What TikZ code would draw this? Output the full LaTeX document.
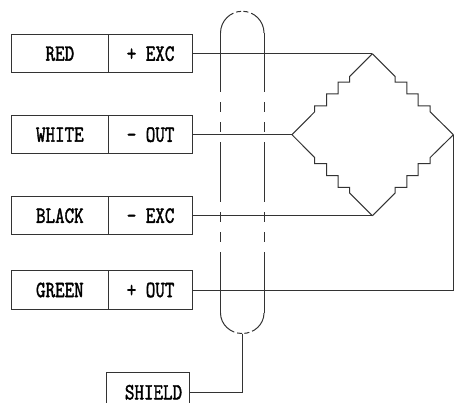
\documentclass[tikz,border=0pt]{standalone}
\usepackage{fontspec}
\newfontfamily\cellFont[AutoFakeBold=2]{Latin Modern Mono}
\usetikzlibrary{positioning}
\newcommand{\cellText}[1]{\scalebox{1}[1.25]{#1}}
\tikzset{
  wireLine/.style={line width=1pt, draw=black!80},
  cellLabel/.style={inner sep=0pt, font=\fontsize{18.5}{20}\selectfont\cellFont\bfseries},
  colorCell/.style={wireLine, cellLabel, rectangle, outer sep=0pt, minimum height=38.5pt, minimum width=97.7pt},
  signalCell/.style={colorCell, minimum width=83.8pt},
  shieldCell/.style={colorCell, minimum width=83.5pt},
  % Cable: long solid runs broken by two short dashes
  cableSide/.style={wireLine, dash pattern=on 59pt off 10pt on 10pt off 10pt on 10pt off 10pt on 60pt off 10pt on 10pt off 10pt on 10pt off 10pt on 61pt},
  cableEnd/.style={wireLine, dash pattern=on 25pt off 3pt on 5pt off 2.3pt on 5pt off 3pt on 25pt}
}
\begin{document}
\begin{tikzpicture}[x=1pt, y=-1pt]
  \useasboundingbox (0,0) rectangle (454,402);
  \clip (0,0) rectangle (454,402);

  % Terminal rows
  \node[colorCell] (red) at (59.85,53.7) {\cellText{RED}};
  \node[signalCell, right=0pt of red] (excPlus) {\cellText{+ EXC}};
  \node[colorCell] (white) at (59.85,134.7) {\cellText{WHITE}};
  \node[signalCell, right=0pt of white] (outMinus) {\cellText{- OUT}};
  \node[colorCell] (black) at (59.85,215.7) {\cellText{BLACK}};
  \node[signalCell, right=0pt of black] (excMinus) {\cellText{- EXC}};
  \node[colorCell] (green) at (59.85,290) {\cellText{GREEN}};
  \node[signalCell, right=0pt of green] (outPlus) {\cellText{+ OUT}};

  % Box runs off the lower edge of the page
  \node[shieldCell] (shield) at (147.75,392) {};
  \node[cellLabel] (shieldText) at (153.5,392.3) {\cellText{SHIELD}};

  % Bridge corners
  \coordinate (bridgeTop) at (372.4,53.7);
  \coordinate (bridgeLeft) at (292,134.7);
  \coordinate (bridgeRight) at (453.4,134.7);
  \coordinate (bridgeBot) at (372.4,215.7);

  % Cable outline
  \foreach \x in {220.5, 264} {
    \draw[cableSide] (\x,33) -- (\x,313);
  }
  \draw[cableEnd] (220.5,33) arc (180:360:21.75);
  \draw[cableEnd] (220.5,313) arc (180:0:21.75 and 20.5);
  \coordinate (cableBot) at (242.25,333.5);

  % Wires
  \draw[wireLine] (excPlus.east) -- (bridgeTop);
  \draw[wireLine] (outMinus.east) -- (bridgeLeft);
  \draw[wireLine] (excMinus.east) -- (bridgeBot);
  \draw[wireLine] (outPlus.east) -| (bridgeRight);
  \draw[wireLine] (cableBot) |- (shield.east);

  % Bridge arms
  \foreach \corner/\side/\sx/\sy in {bridgeTop/bridgeLeft/-1/1, bridgeTop/bridgeRight/1/1, bridgeBot/bridgeLeft/-1/-1, bridgeBot/bridgeRight/1/-1} {
    \draw[wireLine] (\corner) -- ++(\sx*22.7,\sy*22.7) -- ++(0,\sy*5.7) -- ++(\sx*11.7,0) -- ++(0,\sy*11.7)
      -- ++(\sx*11.3,0) -- ++(0,\sy*12) -- ++(\sx*12,0) -- ++(0,\sy*6) -- (\side);
  }
\end{tikzpicture}
\end{document}
